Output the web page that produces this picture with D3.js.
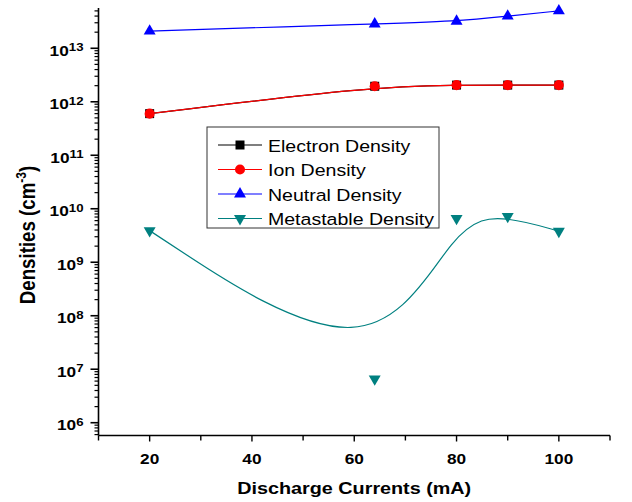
<!DOCTYPE html>
<html>
<head>
<meta charset="utf-8">
<script src="https://cdn.jsdelivr.net/npm/d3@7"></script>
<style>
  body { margin: 0; background: #fff; }
  svg { display: block; font-family: Arial, "Liberation Sans", sans-serif; }
</style>
</head>
<body>
<svg width="632" height="502"></svg>
<script>
// Chart values
var currents = [20, 64, 80, 90, 100]
var electronDensity = [6.0e11, 1.95e12, 2.05e12, 2.05e12, 2.05e12]
var ionDensity = [6.0e11, 1.95e12, 2.05e12, 2.05e12, 2.05e12]
var neutralDensity = [2.1e13, 2.85e13, 3.2e13, 4.0e13, 5.0e13]
var metastableDensity = [3.9e9, 6.6e6, 6.6e9, 7.2e9, 3.8e9]
var seriesNames = ["Electron Density", "Ion Density", "Neutral Density", "Metastable Density"]
var xTicks = [20, 40, 60, 80, 100]
var yExponents = [6, 7, 8, 9, 10, 11, 12, 13]

var svg = d3.select("svg")
// the original picture is a bit wider than tall, so text is stretched sideways
var stretch = 1.15

// scales: x linear, y log
var x = d3.scaleLinear().domain([10, 110]).range([98.5, 610])
var y = d3.scaleLog().domain([Math.pow(10, 5.761), Math.pow(10, 13.753)]).range([435.5, 8])

var series = [
  { name: seriesNames[0], values: electronDensity, color: "#000000", symbol: d3.symbolSquare, size: 81, rotate: 0 },
  { name: seriesNames[1], values: ionDensity, color: "#ff0000", symbol: d3.symbolCircle, size: 80, rotate: 0 },
  { name: seriesNames[2], values: neutralDensity, color: "#0000ff", symbol: d3.symbolTriangle, size: 62, rotate: 0 },
  { name: seriesNames[3], values: metastableDensity, color: "#008080", symbol: d3.symbolTriangle, size: 62, rotate: 180 }
]

// x axis
var xAxis = svg.append("g").attr("transform", "translate(0,435.5)")
xAxis.append("line")
  .attr("x1", x.range()[0]).attr("x2", x.range()[1])
  .attr("stroke", "#000").attr("stroke-width", 1.6)
xAxis.selectAll(".xtick")
  .data(d3.range(10, 111, 10))
  .enter()
  .append("line")
  .attr("x1", d => x(d)).attr("x2", d => x(d))
  .attr("y1", 0).attr("y2", d => d % 20 == 0 ? 6 : 5)
  .attr("stroke", "#000").attr("stroke-width", 1.4)
xAxis.selectAll(".xlabel")
  .data(xTicks)
  .enter()
  .append("text")
  .attr("transform", d => "translate(" + x(d) + ",28.5) scale(" + stretch + ",1)")
  .attr("text-anchor", "middle")
  .attr("font-size", 15).attr("font-weight", "bold")
  .text(d => d)

// y axis
var yAxis = svg.append("g").attr("transform", "translate(98.5,0)")
yAxis.append("line")
  .attr("y1", y.range()[0]).attr("y2", y.range()[1])
  .attr("stroke", "#000").attr("stroke-width", 1.6)
var minorTicks = []
yExponents.concat([5]).forEach(function (e) {
  for (var k = 2; k <= 9; k++) {
    var v = k * Math.pow(10, e)
    if (v >= y.domain()[0] && v <= y.domain()[1]) minorTicks.push(v)
  }
})
yAxis.selectAll(".yminor")
  .data(minorTicks)
  .enter()
  .append("line")
  .attr("x1", 0).attr("x2", -4)
  .attr("y1", d => y(d)).attr("y2", d => y(d))
  .attr("stroke", "#000").attr("stroke-width", 1.2)
yAxis.selectAll(".ymajor")
  .data(yExponents)
  .enter()
  .append("line")
  .attr("x1", 0).attr("x2", -8)
  .attr("y1", d => y(Math.pow(10, d))).attr("y2", d => y(Math.pow(10, d)))
  .attr("stroke", "#000").attr("stroke-width", 1.6)
var yLabels = yAxis.selectAll(".ylabel")
  .data(yExponents)
  .enter()
  .append("text")
  .attr("transform", d => "translate(-15," + (y(Math.pow(10, d)) + 7.7) + ") scale(" + stretch + ",1)")
  .attr("text-anchor", "end")
  .attr("font-size", 15).attr("font-weight", "bold")
yLabels.append("tspan").text("10")
yLabels.append("tspan")
  .attr("dy", -4.5).attr("font-size", 11.5)
  .text(d => d)

// axis titles
svg.append("text")
  .attr("transform", "translate(" + x(60) + ",494) scale(" + stretch + ",1)")
  .attr("text-anchor", "middle")
  .attr("font-size", 17.2).attr("font-weight", "bold")
  .text("Discharge Currents (mA)")
var yTitle = svg.append("text")
  .attr("transform", "translate(35,235) scale(" + stretch + ",1) rotate(-90)")
  .attr("text-anchor", "middle")
  .attr("font-size", 18.7).attr("font-weight", "bold")
yTitle.append("tspan").text("Densities (cm")
yTitle.append("tspan").attr("dy", -8).attr("font-size", 12).text("-3")
yTitle.append("tspan").attr("dy", 8).text(")")

// lines and markers (B-spline connection like the original)
var line = d3.line()
  .x((d, i) => x(currents[i]))
  .y(d => y(d))
  .curve(d3.curveBasis)

series.forEach(function (s) {
  svg.append("path")
    .attr("d", line(s.values))
    .attr("fill", "none")
    .attr("stroke", s.color)
    .attr("stroke-width", 1.2)
})
series.forEach(function (s) {
  svg.append("g")
    .selectAll("path")
    .data(s.values)
    .enter()
    .append("path")
    .attr("d", d3.symbol().type(s.symbol).size(s.size))
    .attr("transform", (d, i) => "translate(" + x(currents[i]) + "," + y(d) + ") rotate(" + s.rotate + ")")
    .attr("fill", s.color)
})

// legend
var legend = svg.append("g").attr("transform", "translate(207,127)")
legend.append("rect")
  .attr("width", 232).attr("height", 101)
  .attr("fill", "#fff").attr("stroke", "#333").attr("stroke-width", 1)
var items = legend.selectAll(".item")
  .data(series)
  .enter()
  .append("g")
  .attr("transform", (d, i) => "translate(0," + (18 + i * 24.5) + ")")
items.append("line")
  .attr("x1", 11).attr("x2", 55)
  .attr("stroke", d => d.color).attr("stroke-width", 1.2)
items.append("path")
  .attr("d", d => d3.symbol().type(d.symbol).size(d.size)())
  .attr("transform", d => "translate(33,0) rotate(" + d.rotate + ")")
  .attr("fill", d => d.color)
items.append("text")
  .attr("transform", "translate(61,6.5) scale(" + stretch + ",1)")
  .attr("font-size", 17)
  .text(d => d.name)
</script>
</body>
</html>
